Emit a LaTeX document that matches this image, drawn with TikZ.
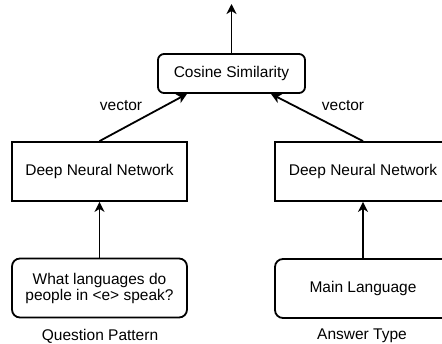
\documentclass[tikz,border=0pt]{standalone}
\usepackage{fontspec}
\setmainfont{Liberation Sans}
\usetikzlibrary{arrows.meta}
\begin{document}
\begin{tikzpicture}[x=1pt,y=-1pt,
  every node/.style={font=\fontsize{15.5}{16}\selectfont, inner sep=0pt, align=center},
  box/.style={draw, line width=1.8pt, minimum width=175pt, minimum height=59pt},
  rbox/.style={box, rounded corners=8pt},
  cbox/.style={draw, line width=1.8pt, rounded corners=6pt, minimum width=147pt, minimum height=39pt},
  arr/.style={line width=1.8pt, -{Stealth[length=10pt,width=10pt,inset=3pt]}}
]
\useasboundingbox (0,0) rectangle (442,343);
\node[cbox] (cos) at (231.5,73.5) {Cosine Similarity};
\node[box] (dnn1) at (99.5,171.5) {Deep Neural Network};
\node[box, minimum width=176pt] (dnn2) at (363,171.5) {Deep Neural Network};
\node[rbox] (q) at (99.5,288) {What languages do\\people in <e> speak?};
\node[rbox, minimum width=176pt] (a) at (363,288.5) {Main Language};
\node (ql) at (100,336) {Question Pattern};
\node (al) at (362,335.5) {Answer Type};
\node (v1) at (121,105.5) {vector};
\node (v2) at (343,105.5) {vector};
\coordinate (out) at (231.5,4);
\draw[arr] (cos.north) -- (out);
\draw[arr] (dnn1.north) -- ([xshift=-44.5pt]cos.south);
\draw[arr] (dnn2.north) -- ([xshift=39.5pt]cos.south);
\draw[arr] (q.north) -- (dnn1.south);
\draw[arr] (a.north) -- (dnn2.south);
\end{tikzpicture}
\end{document}
